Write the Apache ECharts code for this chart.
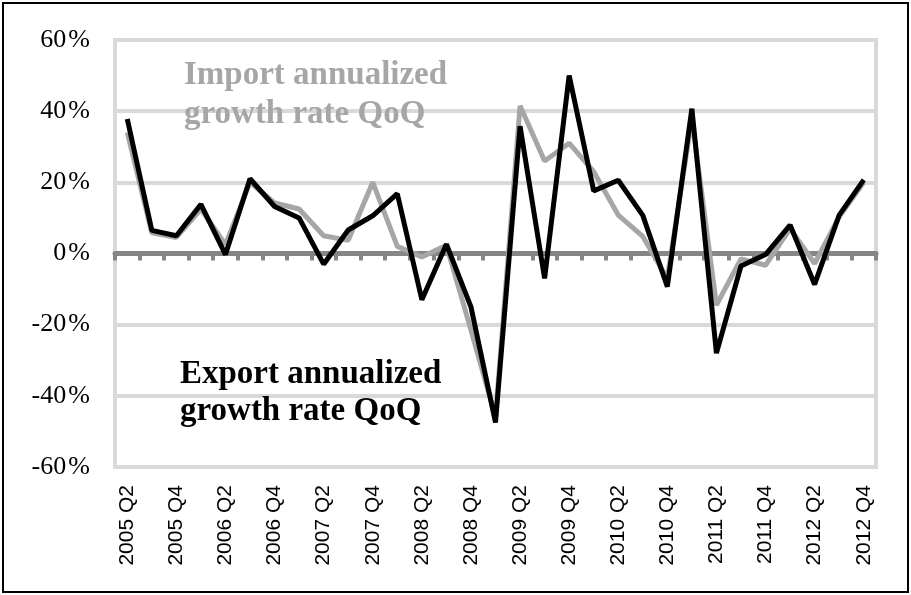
<!DOCTYPE html>
<html>
<head>
<meta charset="utf-8">
<script src="https://cdn.jsdelivr.net/npm/echarts@6/dist/echarts.min.js"></script>
<style>
    html, body { margin: 0; padding: 0; background: #fff; }
    #myChart { width: 911px; height: 595px; }
</style>
</head>
<body>
<div id="myChart"></div>
<script>
    var quarters = [
        '2005 Q2', '2005 Q3', '2005 Q4',
        '2006 Q1', '2006 Q2', '2006 Q3', '2006 Q4',
        '2007 Q1', '2007 Q2', '2007 Q3', '2007 Q4',
        '2008 Q1', '2008 Q2', '2008 Q3', '2008 Q4',
        '2009 Q1', '2009 Q2', '2009 Q3', '2009 Q4',
        '2010 Q1', '2010 Q2', '2010 Q3', '2010 Q4',
        '2011 Q1', '2011 Q2', '2011 Q3', '2011 Q4',
        '2012 Q1', '2012 Q2', '2012 Q3', '2012 Q4'
    ];
    // import growth, % annualized QoQ
    var importGrowth = [
        34, 5.8, 4.5,
        12.5, 2.5, 20, 14.2,
        12.5, 5, 3.7, 20,
        2, -1, 2.3, -21.5,
        -46, 41.5, 26, 31,
        23, 10.8, 4.8, -7,
        38, -14.5, -1.5, -3.3,
        7, -2.8, 10.3, 20
    ];
    // export growth, % annualized QoQ
    var exportGrowth = [
        37.8, 6.5, 5,
        13.8, -0.3, 21, 13.2,
        10, -3, 6.6, 10.6,
        16.8, -13, 2.6, -15,
        -47.5, 35.8, -7, 50,
        17.6, 20.6, 10.7, -9.3,
        40.7, -28, -3.5, -0.3,
        8, -8.7, 10.8, 20.7
    ];
    var yTicks = [-60, -40, -20, 0, 20, 40, 60];

    var c = document.getElementById('myChart');
    var myChart = echarts.init(c, null, { renderer: 'canvas' });

    myChart.setOption({
        animation: false,
        backgroundColor: '#fff',
        grid: {
            left: 115,
            right: 35,
            top: 40,
            bottom: 128,
            show: true,
            borderColor: '#d9d9d9',
            borderWidth: 4
        },
        xAxis: [{
            type: 'category',
            position: 'bottom',
            data: quarters,
            boundaryGap: true,
            axisLine: { show: false, onZero: false },
            axisTick: { show: false },
            axisLabel: {
                rotate: 90,
                interval: 1,
                margin: 18,
                color: '#000',
                fontFamily: 'Liberation Sans',
                fontSize: 21
            }
        }, {
            type: 'category',
            position: 'bottom',
            data: quarters,
            boundaryGap: true,
            axisLine: {
                show: true,
                onZero: true,
                lineStyle: { color: '#868686', width: 5, cap: 'round' }
            },
            axisTick: {
                show: true,
                interval: 0,
                length: 7,
                lineStyle: { color: '#868686', width: 4 }
            },
            axisLabel: { show: false }
        }],
        yAxis: {
            type: 'value',
            min: yTicks[0],
            max: yTicks[yTicks.length - 1],
            interval: 20,
            axisLine: { show: false },
            axisTick: { show: false },
            splitLine: { lineStyle: { color: '#d9d9d9', width: 4 } },
            axisLabel: {
                margin: 25,
                color: '#000',
                fontFamily: 'Liberation Serif',
                fontSize: 26,
                formatter: function (v) { return v + '\u200a%'; }
            }
        },
        series: [{
            name: 'Import annualized growth rate QoQ',
            type: 'line',
            xAxisIndex: 0,
            data: importGrowth,
            symbol: 'none',
            lineStyle: { color: '#a6a6a6', width: 5 }
        }, {
            name: 'Export annualized growth rate QoQ',
            type: 'line',
            xAxisIndex: 0,
            data: exportGrowth,
            symbol: 'none',
            lineStyle: { color: '#000', width: 5 }
        }],
        graphic: [{
            type: 'rect',
            shape: { x: 3, y: 3, width: 905, height: 589 },
            style: { fill: 'none', stroke: '#000', lineWidth: 2 },
            silent: true
        }, {
            type: 'text',
            left: 184,
            top: 56,
            style: {
                text: 'Import annualized\ngrowth rate QoQ',
                font: 'bold 33px "Liberation Serif"',
                lineHeight: 39,
                fill: '#a6a6a6'
            },
            z: 10
        }, {
            type: 'text',
            left: 180,
            top: 356,
            style: {
                text: 'Export annualized\ngrowth rate QoQ',
                font: 'bold 33px "Liberation Serif"',
                lineHeight: 37,
                fill: '#000'
            },
            z: 10
        }]
    });
</script>
</body>
</html>
